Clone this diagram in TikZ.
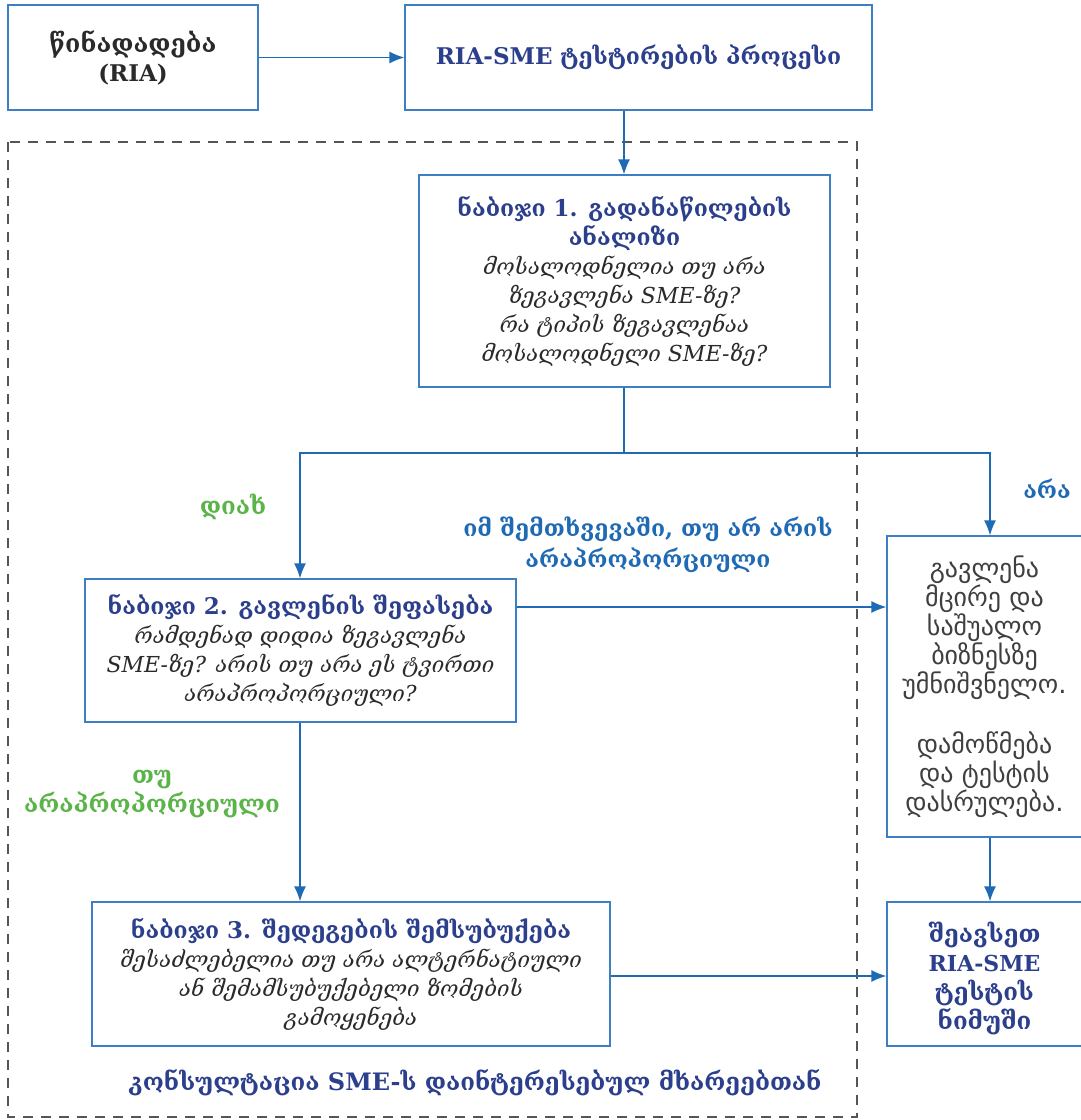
\documentclass[tikz,border=0pt]{standalone}
\usepackage{fontspec}
\setmainfont{DejaVu Serif}
\newfontfamily\gsans{DejaVu Sans}
\usetikzlibrary{arrows.meta}
\definecolor{boxblue}{HTML}{3C7FC2}
\definecolor{arrowblue}{HTML}{1F6AB5}
\definecolor{titleblue}{HTML}{2B3F8C}
\definecolor{lblblue}{HTML}{1F6AB5}
\definecolor{greenlbl}{HTML}{5BB449}
\definecolor{textgray}{HTML}{2A2A2A}
\definecolor{dashgray}{HTML}{555555}
\newcommand\mytitle{\fontsize{23}{29}\selectfont\bfseries\color{titleblue}}
\newcommand\mybody{\fontsize{22}{29}\selectfont\itshape}
\tikzset{
  boxn/.style={draw=boxblue, line width=1.3pt, rectangle, align=center, text=textgray,
    font=\fontsize{22}{29}\selectfont, inner sep=4pt},
  conn/.style={draw=arrowblue, line width=1.3pt},
  arr/.style={conn, -{Latex[length=15pt,width=12pt]}},
  greenlab/.style={text=greenlbl, font=\bfseries\fontsize{24}{29}\selectfont, align=center},
  bluelab/.style={text=lblblue, font=\bfseries\fontsize{23}{31}\selectfont, align=center},
}
\begin{document}
\begin{tikzpicture}[x=1pt,y=-1pt]
\useasboundingbox (0,0) rectangle (1080,1120);
\fill[white] (0,0) rectangle (1080,1120);
% dashed frame
\draw[dashgray, line width=1.2pt, dash pattern=on 10pt off 8pt] (8,142) rectangle (857,1117);

\node[boxn, minimum width=250pt, minimum height=105pt] (A) at (133,57.5)
  {{\bfseries\fontsize{25}{32}\selectfont წინადადება}\\{\bfseries\fontsize{23}{32}\selectfont (RIA)}};
\node[boxn, minimum width=467pt, minimum height=105pt] (B) at (638.5,57.5)
  {\mytitle RIA-SME ტესტირების პროცესი};
\node[boxn, minimum width=411pt, minimum height=212pt] (S1) at (624.5,281)
  {{\mytitle ნაბიჯი 1. გადანაწილების}\\{\mytitle ანალიზი}\\
   {\mybody მოსალოდნელია თუ არა}\\{\mybody ზეგავლენა SME-ზე?}\\{\mybody რა ტიპის ზეგავლენაა}\\{\mybody მოსალოდნელი SME-ზე?}};
\node[boxn, minimum width=431pt, minimum height=143pt] (S2) at (300.5,650.5)
  {{\mytitle ნაბიჯი 2. გავლენის შეფასება}\\
   {\mybody რამდენად დიდია ზეგავლენა}\\{\mybody SME-ზე? არის თუ არა ეს ტვირთი}\\{\mybody არაპროპორციული?}};
\node[boxn, minimum width=195pt, minimum height=301pt, text=textgray!90, font=\gsans\fontsize{26}{29}\selectfont] (R) at (984.5,686.5)
  {გავლენა\\მცირე და\\საშუალო\\ბიზნესზე\\უმნიშვნელო.\\[31pt]დამოწმება\\და ტესტის\\დასრულება.};
\node[boxn, minimum width=518pt, minimum height=144pt] (S3) at (351,974)
  {{\mytitle ნაბიჯი 3. შედეგების შემსუბუქება}\\
   {\mybody შესაძლებელია თუ არა ალტერნატიული}\\{\mybody ან შემამსუბუქებელი ზომების}\\{\mybody გამოყენება}};
\node[boxn, minimum width=195pt, minimum height=144pt, text=titleblue, font=\bfseries\fontsize{24}{29}\selectfont] (F) at (984.5,974)
  {\rule{0pt}{30pt}შეავსეთ\\{\fontsize{22}{29}\selectfont RIA-SME}\\ტესტის\\ნიმუში};

% labels
\node[greenlab] (yes) at (233,507) {დიახ};
\node[bluelab] (no) at (1047,489) {არა};
\node[bluelab] (ifnot) at (648,545) {იმ შემთხვევაში, თუ არ არის\\არაპროპორციული};
\node[greenlab] (ifdis) at (152,794) {თუ\\არაპროპორციული};
\node[text=titleblue, font=\bfseries\fontsize{24}{29}\selectfont] (cons) at (475,1083) {კონსულტაცია SME-ს დაინტერესებულ მხარეებთან};

% connectors
\coordinate (split) at (624,453);
\coordinate (lt) at (300,453);
\coordinate (rt) at (990,453);
\draw[arr] (A.east) -- (B.west);
\draw[arr] (B.south -| 624,0) -- (S1.north -| 624,0);
\draw[conn] (S1.south -| split) -- (split);
\draw[arr] (split) -- (lt) -- (S2.north -| lt);
\draw[arr] (split) -- (rt) -- (R.north -| rt);
\draw[arr] (S2.east |- 0,607) -- (R.west |- 0,607);
\draw[arr] (S2.south -| 300,0) -- (S3.north -| 300,0);
\draw[arr] (S3.east |- 0,976) -- (F.west |- 0,976);
\draw[arr] (R.south -| 990,0) -- (F.north -| 990,0);
\end{tikzpicture}
\end{document}
